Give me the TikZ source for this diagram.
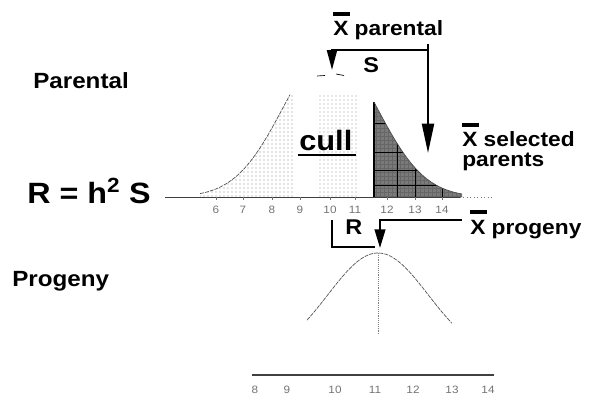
\documentclass[tikz,border=0pt]{standalone}
\usepackage{fontspec}
\setmainfont{Liberation Sans}[FakeStretch=1.1]
\usetikzlibrary{arrows.meta,patterns}
\newcommand\xbarred{\rlap{\raisebox{0.95em}{\rule{0.8em}{0.2em}}}X}
\begin{document}
\begin{tikzpicture}[x=0.75pt,y=-0.75pt,
  lab/.style={inner sep=0pt, anchor=base west, font=\bfseries\fontsize{15.5}{18}\selectfont},
  big/.style={inner sep=0pt, anchor=base west, font=\bfseries\fontsize{16.5}{19}\selectfont},
  ticklab/.style={inner sep=0pt, anchor=base, text=black!55, font=\fontsize{8}{9}\selectfont},
  conn/.style={line width=1.6pt},
  curveline/.style={black!70, line width=0.5pt, dash pattern=on 3pt off 0.8pt},
  axisline/.style={black!75, line width=0.6pt}
]
\useasboundingbox (0,0) rectangle (589,396);

% ---------- parental distribution ----------
\def\pf(#1){197-146*exp(-(((#1)-330)/47.4)^2/2)}
% light dotted regions
\begin{scope}
  \clip (195,95) rectangle (293,197);
  \fill[pattern=dots, pattern color=black!45] (200,197) -- plot[domain=200:293, samples=40] (\x,{\pf(\x)}) -- (293,197) -- cycle;
\end{scope}
\begin{scope}
  \clip (317,95) rectangle (357,197);
  \fill[pattern=dots, pattern color=black!40] (317,197) -- plot[domain=317:357, samples=20] (\x,{\pf(\x)}) -- (357,197) -- cycle;
\end{scope}
% left tail boundary
\draw[curveline] plot[domain=200:290, samples=40] (\x,{\pf(\x)});
% dark selected region
\begin{scope}
  \clip (374,197) -- plot[domain=374:462, samples=40] (\x,{\pf(\x)}) -- (462,197) -- cycle;
  \fill[black!52] (370,90) rectangle (465,200);
  \fill[pattern=grid, pattern color=black!60] (370,90) rectangle (465,200);
  \foreach \gx in {397,415,442} \draw[black, line width=0.35pt] (\gx,90) -- (\gx,200);
  \foreach \gy in {123,152,170,185} \draw[black, line width=0.35pt] (370,\gy) -- (465,\gy);
\end{scope}
\draw[black, line width=0.8pt] (374,{\pf(374)}) -- (374,197);
\draw[black!70, line width=0.5pt] plot[domain=374:462, samples=40] (\x,{\pf(\x)});
% peak remnants
\draw[black, line width=0.5pt] (317,76) -- (325,75.5);
\draw[black, line width=0.5pt] (336,74) -- (344,75.5);

% parental axis
\draw[axisline] (165,197) -- (460,197);
\draw[black!55, line width=0.6pt, dotted] (460,197) -- (492,197);
\foreach \tx/\tl in {216/6,243/7,272/8,300/9,330/10,355/11,387/12,415/13,442/14}{
  \draw[black!55, line width=0.4pt] (\tx,197) -- (\tx,200);
  \node[ticklab] at (\tx,213) {\tl};
}

% ---------- progeny distribution ----------
\def\qf(#1){358.6-105.6*exp(-(((#1)-378)/50)^2/2)}
\draw[curveline] plot[domain=307:452, samples=60] (\x,{\qf(\x)});
\draw[black!50, line width=0.4pt, densely dotted] (378,253) -- (378,335);
\draw[axisline, line width=0.8pt] (252,375) -- (494,375);
\foreach \tx/\tl in {255/8,287/9,335/10,375/11,413/12,452/13,488/14}{
  \node[ticklab] at (\tx,393) {\tl};
}

% ---------- labels ----------
\node[big] (parental) at (33,88) {Parental};
\node[big] (progeny) at (12,286) {Progeny};
\node[inner sep=0pt, anchor=base west, font=\bfseries\fontsize{22}{26}\selectfont] (eq) at (27,203) {R = h\textsuperscript{2} S};
\node[lab] (xpar) at (333,36) {\xbarred{} parental};
\node[lab, font=\bfseries\fontsize{16}{18}\selectfont] (slab) at (363,72) {S};
\node[lab, align=left, font=\bfseries\fontsize{15.5}{14.5}\selectfont] (xsel) at (462,166) {\xbarred{} selected\\parents};
\node[lab] (xprog) at (470,234) {\xbarred{} progeny};
\node[lab, font=\bfseries\fontsize{16}{18}\selectfont] (rlab) at (345,234) {R};
\node[inner sep=0pt, anchor=base west, font=\bfseries\fontsize{21}{24}\selectfont] (cull) at (299,150) {cull};
\draw[line width=2.2pt] (298,155) -- (356,155);

% ---------- connectors ----------
\coordinate (stop) at (428,44);
\coordinate (sjoin) at (428,50);
\coordinate (sel) at (428,153);
\coordinate (parmean) at (332,70);
\coordinate (pstart) at (462,220);
\coordinate (progmean) at (380,248);
\coordinate (rtop) at (332,220);
\coordinate (rend) at (375,247);

\draw[conn, -{Triangle[length=22pt,width=9pt]}] (stop) -- (sel);
\draw[conn, -{Triangle[length=15pt,width=7.5pt]}] (sjoin) -| (parmean);
\draw[conn, -{Triangle[length=14pt,width=8pt]}] (pstart) -| (progmean);
\draw[conn] (rtop) |- (rend);
\end{tikzpicture}
\end{document}
